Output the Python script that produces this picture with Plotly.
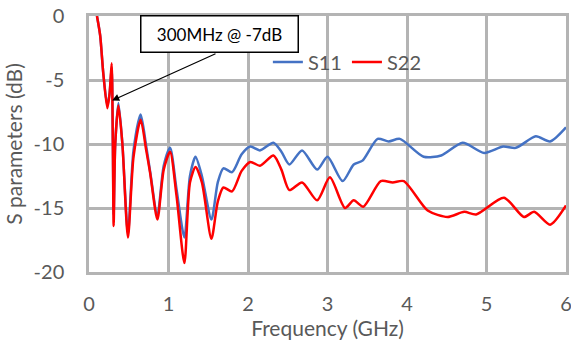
import plotly.graph_objects as go

f11 = [0.10, 0.14, 0.18, 0.23, 0.26, 0.285, 0.30, 0.31, 0.33, 0.37, 0.42, 0.49, 0.56, 0.65, 0.72, 0.77,
       0.86, 0.94, 1.02, 1.10, 1.20, 1.27, 1.34, 1.42, 1.54, 1.62, 1.69, 1.80, 1.92, 2.03, 2.15, 2.32,
       2.42, 2.52, 2.68, 2.87, 3.00, 3.19, 3.33, 3.44, 3.63, 3.77, 3.91, 4.21, 4.43, 4.70, 4.97, 5.21,
       5.37, 5.62, 5.80, 6.00]
s11 = [0.0, -1.5, -4.5, -7.0, -6.0, -4.0, -10.0, -15.5, -10.0, -6.8, -10.0, -17.0, -10.5, -7.7, -10.2, -12.2,
       -15.6, -11.7, -10.3, -13.5, -17.3, -12.5, -11.0, -12.5, -15.9, -13.0, -11.9, -12.2, -10.8, -10.2, -10.5, -9.9,
       -10.6, -11.6, -10.5, -12.0, -11.0, -12.9, -11.6, -11.3, -9.6, -9.8, -9.6, -11.0, -10.9, -9.9, -10.7, -10.2,
       -10.3, -9.4, -9.8, -8.7]

f22 = [0.10, 0.14, 0.18, 0.23, 0.26, 0.285, 0.30, 0.31, 0.33, 0.37, 0.42, 0.49, 0.56, 0.65, 0.72, 0.77,
       0.86, 0.94, 1.02, 1.10, 1.20, 1.27, 1.34, 1.42, 1.54, 1.62, 1.69, 1.80, 1.92, 2.03, 2.15, 2.32,
       2.42, 2.52, 2.68, 2.87, 3.03, 3.22, 3.33, 3.45, 3.67, 3.82, 3.96, 4.26, 4.51, 4.72, 4.87, 5.22,
       5.47, 5.60, 5.80, 6.00]
s22 = [0.0, -1.5, -4.5, -7.2, -6.0, -3.7, -10.0, -16.4, -10.0, -7.0, -10.0, -17.3, -11.0, -8.1, -10.5, -12.3,
       -15.9, -12.0, -10.6, -14.0, -19.3, -13.0, -11.8, -13.0, -17.4, -14.5, -13.4, -13.7, -12.1, -11.4, -11.7, -10.9,
       -12.0, -13.6, -13.0, -14.4, -12.6, -15.0, -14.4, -14.9, -12.9, -13.0, -12.9, -15.2, -15.7, -15.3, -15.5, -14.2,
       -15.7, -15.3, -16.3, -14.8]

x_ticks = [0, 1, 2, 3, 4, 5, 6]
y_ticks = [0, -5, -10, -15, -20]

FONT = "Lato"
GREY = "#595959"
GRID = "#b4b4b4"

fig = go.Figure()
fig.add_trace(go.Scatter(x=f11, y=s11, mode="lines", name="S11",
                         line=dict(color="#4472C4", width=2.5, shape="spline", smoothing=0.7)))
fig.add_trace(go.Scatter(x=f22, y=s22, mode="lines", name="S22",
                         line=dict(color="#FF0000", width=2.5, shape="spline", smoothing=0.7)))

axis_common = dict(showgrid=True, gridcolor=GRID, gridwidth=2.5, zeroline=False,
                   showline=True, linecolor=GRID, linewidth=2.5, mirror=True,
                   tickcolor="rgba(0,0,0,0)", automargin=False, ticklabeloverflow="allow",
                   tickfont=dict(size=20, color=GREY, family=FONT))

fig.update_layout(
    width=571, height=356,
    margin=dict(l=89, r=5, t=16, b=84, pad=0),
    paper_bgcolor="white", plot_bgcolor="white",
    font=dict(family=FONT, color=GREY, size=20),
    showlegend=True,
    legend=dict(orientation="h", x=0.375, y=0.82, xanchor="left", yanchor="middle",
                bgcolor="rgba(0,0,0,0)", font=dict(size=20, color=GREY), itemwidth=30),
    xaxis=dict(range=[0, 6], tickmode="array", tickvals=x_ticks, ticktext=[str(v) for v in x_ticks],
               ticks="outside", ticklen=12,
               title=dict(text="Frequency (GHz)", font=dict(size=21, color=GREY), standoff=6),
               **axis_common),
    yaxis=dict(range=[-20, 0], tickmode="array", tickvals=y_ticks, ticktext=[str(v) for v in y_ticks],
               ticks="outside", ticklen=18,
               title=dict(text="S parameters (dB)", font=dict(size=21, color=GREY), standoff=6),
               **axis_common),
)

# arrow
fig.add_annotation(x=0.29, y=-6.6, ax=1.61, ay=-2.9, axref="x", ayref="y", xref="x", yref="y",
                   text="", showarrow=True, arrowhead=2, arrowsize=1.2, arrowwidth=1.2, arrowcolor="black")
# text box
fig.add_annotation(x=1.64, y=-1.4, xref="x", yref="y", text="300MHz @ -7dB", showarrow=False,
                   font=dict(family=FONT, size=17, color="black"), bgcolor="white",
                   bordercolor="black", borderwidth=1.5, borderpad=0, width=156, height=35)

fig.write_html("out.html", config={"displayModeBar": False},
               post_script="document.body.style.margin='0px';")
